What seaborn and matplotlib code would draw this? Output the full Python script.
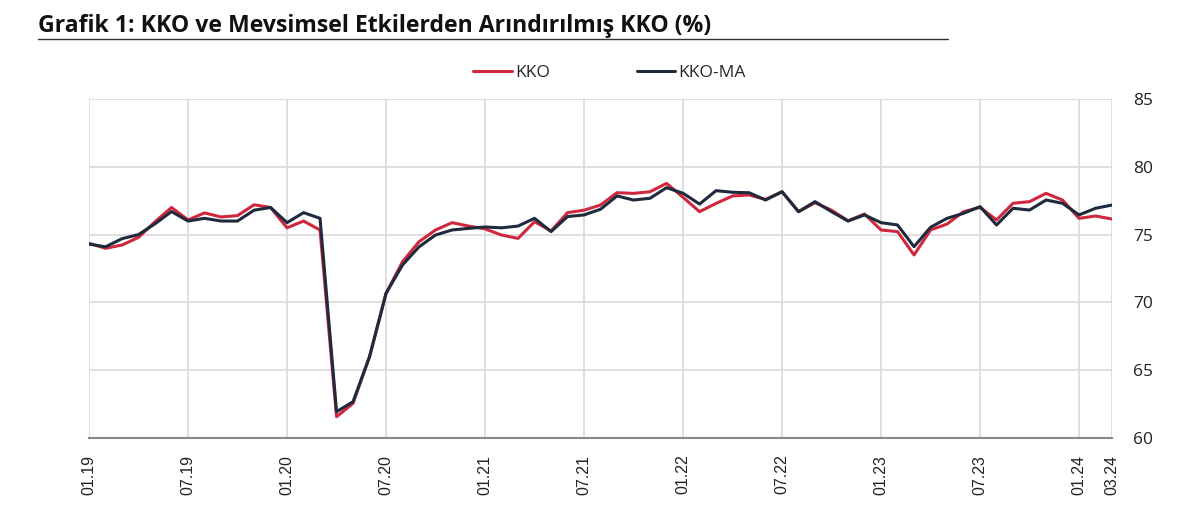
import numpy as np
import pandas as pd
import matplotlib
matplotlib.use("Agg")
import matplotlib.pyplot as plt
import seaborn as sns

# === Data (monthly, 01.19 - 03.24) ===
months = pd.date_range("2019-01-01", periods=63, freq="MS").strftime("%m.%y").tolist()

kko = [74.36, 73.99, 74.23, 74.80, 75.95, 77.00, 76.08, 76.60, 76.30, 76.40,
       77.20, 77.00, 75.50, 76.00, 75.34, 61.57, 62.56, 66.00, 70.67, 73.00,
       74.48, 75.34, 75.88, 75.63, 75.42, 74.97, 74.72, 75.95, 75.27, 76.62,
       76.80, 77.18, 78.09, 78.04, 78.16, 78.78, 77.75, 76.69, 77.30, 77.85,
       77.92, 77.60, 78.16, 76.69, 77.35, 76.80, 76.02, 76.52, 75.34, 75.22,
       73.50, 75.34, 75.78, 76.69, 77.01, 76.08, 77.31, 77.43, 78.04, 77.55,
       76.20, 76.37, 76.15]

kko_ma = [74.30, 74.10, 74.70, 75.00, 75.80, 76.70, 76.00, 76.20, 76.00, 76.00,
          76.80, 77.00, 75.88, 76.62, 76.20, 61.94, 62.68, 66.00, 70.67, 72.76,
          74.10, 74.97, 75.34, 75.46, 75.56, 75.50, 75.63, 76.20, 75.22, 76.33,
          76.45, 76.87, 77.85, 77.55, 77.68, 78.46, 78.05, 77.25, 78.24, 78.12,
          78.09, 77.55, 78.16, 76.69, 77.43, 76.69, 76.00, 76.45, 75.88, 75.71,
          74.11, 75.54, 76.20, 76.57, 77.06, 75.71, 76.94, 76.81, 77.55, 77.31,
          76.45, 76.94, 77.18]

tick_idx = list(range(0, 63, 6)) + [62]
y_ticks = [60, 65, 70, 75, 80, 85]

df = pd.DataFrame({"i": np.arange(len(months)), "KKO": kko, "KKO-MA": kko_ma})

RED = "#D0273E"
NAVY = "#1E2B3D"

sns.set_style("white")
plt.rcParams["font.family"] = ["Liberation Sans", "DejaVu Sans"]

fig = plt.figure(figsize=(12, 5.18), dpi=100)
ax = fig.add_axes([0.0742, 0.1544, 0.8525, 0.6545])

sns.lineplot(x="i", y="KKO", data=df, color=RED, linewidth=2.2, ax=ax, label="KKO")
sns.lineplot(x="i", y="KKO-MA", data=df, color=NAVY, linewidth=2.2, ax=ax, label="KKO-MA")

ax.set_xlim(0, 62)
ax.set_ylim(60, 85)
ax.set_xticks(tick_idx)
ax.set_xticklabels([months[i] for i in tick_idx], rotation=90, fontsize=11.5, color="#222222")
ax.set_yticks(y_ticks)
ax.set_yticklabels([str(v) for v in y_ticks], family=["Open Sans", "DejaVu Sans"])
ax.yaxis.tick_right()
ax.tick_params(axis="y", length=0, pad=15, labelsize=12.5, labelcolor="#222222")
ax.tick_params(axis="x", length=6, width=1.2, color="#888888", direction="out", pad=6)
ax.set_xlabel("")
ax.set_ylabel("")

ax.grid(True, color="#D9D9D9", linewidth=1.2)
ax.set_axisbelow(True)
for s in ["top", "left", "right"]:
    ax.spines[s].set_visible(False)
ax.spines["bottom"].set_color("#888888")
ax.spines["bottom"].set_linewidth(1.5)

ax.get_legend().remove()
handles, labels = ax.get_legend_handles_labels()
fig.legend(handles, labels, loc="center", bbox_to_anchor=(0.508, 0.859), ncol=2,
           frameon=False, handlelength=2.2, handletextpad=0.2,
           columnspacing=5.0, prop={"family": ["Open Sans", "DejaVu Sans"], "size": 12.5})

# === Title with underline ===
fig.text(0.032, 0.95, "Grafik 1: KKO ve Mevsimsel Etkilerden Arındırılmış KKO (%)",
         fontsize=16.6, fontweight="bold", family=["Open Sans", "DejaVu Sans"],
         color="#111111", va="center", ha="left")
fig.add_artist(plt.Line2D([0.032, 0.79], [0.925, 0.925], color="#333333", linewidth=1.0))

fig.savefig("out.png", dpi=100)
plt.close(fig)
